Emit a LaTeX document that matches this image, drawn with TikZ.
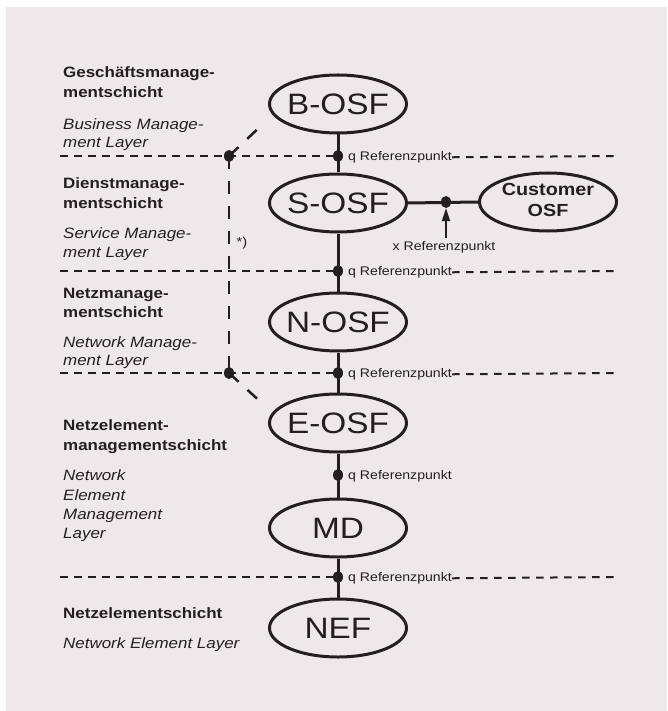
\documentclass[tikz,border=0pt]{standalone}
\usepackage{fontspec}
\setmainfont{Liberation Sans}[FakeStretch=1.13]
\usetikzlibrary{shapes.geometric,arrows.meta}
\definecolor{bg}{RGB}{239,232,234}
\definecolor{ink}{RGB}{35,31,32}
\begin{document}
\begin{tikzpicture}[x=1pt,y=-1pt,
  osf/.style={ellipse, draw=ink, line width=3pt, minimum width=137pt, minimum height=58pt, inner sep=0pt, font=\fontsize{29.5}{34}\selectfont, text=ink},
  cust/.style={ellipse, draw=ink, line width=3pt, minimum width=137pt, minimum height=58pt, inner sep=0pt, font=\bfseries\fontsize{17.5}{20}\selectfont, text=ink},
  conn/.style={draw=ink, line width=3pt},
  dot/.style={ellipse, fill=ink, inner sep=0pt, minimum width=10pt, minimum height=12pt},
  hdash/.style={draw=ink, line width=2pt, dash pattern=on 7.5pt off 6.5pt},
  vdash/.style={draw=ink, line width=2.5pt, dash pattern=on 13pt off 12pt},
  ref/.style={font=\fontsize{12.5}{14}\selectfont, text=ink, inner sep=0pt, anchor=base west},
  lbold/.style={font=\bfseries\fontsize{15}{18}\selectfont, text=ink, inner sep=0pt, anchor=base west},
  lital/.style={font=\itshape\fontsize{15}{18}\selectfont, text=ink, inner sep=0pt, anchor=base west},
]
\useasboundingbox (0,0) rectangle (667,711);
\fill[white] (0,0) rectangle (667,711);
\fill[bg] (6,7) rectangle (667,711);

% layer labels
\node[lbold] (t1a) at (63,78) {Geschäftsmanage-};
\node[lbold] (t1b) at (63,98) {mentschicht};
\node[lital] (t1c) at (63,130) {Business Manage-};
\node[lital] (t1d) at (63,148) {ment Layer};
\node[lbold] (t2a) at (63,189) {Dienstmanage-};
\node[lbold] (t2b) at (63,208) {mentschicht};
\node[lital] (t2c) at (63,238) {Service Manage-};
\node[lital] (t2d) at (63,257) {ment Layer};
\node[lbold] (t3a) at (63,298) {Netzmanage-};
\node[lbold] (t3b) at (63,317) {mentschicht};
\node[lital] (t3c) at (63,347) {Network Manage-};
\node[lital] (t3d) at (63,365) {ment Layer};
\node[lbold] (t4a) at (63,430) {Netzelement-};
\node[lbold] (t4b) at (63,450) {managementschicht};
\node[lital] (t4c) at (63,480) {Network};
\node[lital] (t4d) at (63,500) {Element};
\node[lital] (t4e) at (63,519) {Management};
\node[lital] (t4f) at (63,538) {Layer};
\node[lbold] (t5a) at (63,618) {Netzelementschicht};
\node[lital] (t5b) at (63,648) {Network Element Layer};

% function blocks
\node[osf] (bosf) at (338,104) {\makebox[0pt]{B-OSF}};
\node[osf] (sosf) at (338,203) {\makebox[0pt]{S-OSF}};
\node[cust] (cosf) at (548,202) {\makebox[0pt]{\begin{tabular}{@{}c@{}}Customer\\[1pt]OSF\end{tabular}}};
\node[osf] (nosf) at (338,322) {\makebox[0pt]{N-OSF}};
\node[osf] (eosf) at (338,423) {\makebox[0pt]{E-OSF}};
\node[osf] (md) at (338,528) {\makebox[0pt]{MD}};
\node[osf] (nef) at (338,628) {\makebox[0pt]{NEF}};

% connectors
\draw[conn] (bosf.south) -- (sosf.north);
\draw[conn] (sosf.south) -- (nosf.north);
\draw[conn] (nosf.south) -- (eosf.north);
\draw[conn] (eosf.south) -- (md.north);
\draw[conn] (md.south) -- (nef.north);
\draw[conn] (sosf.east) -- (cosf.west);

% reference points
\node[dot] (q1) at (338,156) {};
\node[dot] (q2) at (338,271) {};
\node[dot] (q3) at (338,373) {};
\node[dot] (q4) at (338,475) {};
\node[dot] (q5) at (338,577) {};
\node[dot] (xd) at (446,202) {};
\node[dot] (lt) at (229,156) {};
\node[dot] (lb) at (229,373) {};

\node[ref] (r1) at (348,160.5) {q Referenzpunkt};
\node[ref] (r2) at (348,275.5) {q Referenzpunkt};
\node[ref] (r3) at (348,377.5) {q Referenzpunkt};
\node[ref] (r4) at (348,479.5) {q Referenzpunkt};
\node[ref] (r5) at (348,581.5) {q Referenzpunkt};

% layer boundaries
\coordinate (h1l) at (60,156); \coordinate (h1r) at (618,156);
\coordinate (h2l) at (60,271); \coordinate (h2r) at (618,271);
\coordinate (h3l) at (60,373); \coordinate (h3r) at (618,373);
\coordinate (h5l) at (60,577); \coordinate (h5r) at (618,577);
\draw[hdash] (h1l) -- (q1);
\draw[hdash] (r1.east) -- (h1r);
\draw[hdash] (h2l) -- (q2);
\draw[hdash] (r2.east) -- (h2r);
\draw[hdash] (h3l) -- (q3);
\draw[hdash] (r3.east) -- (h3r);
\draw[hdash] (h5l) -- (q5);
\draw[hdash] (r5.east) -- (h5r);

% dashed bracket
\coordinate (bd) at (263,124);
\coordinate (ed) at (264,405);
\draw[vdash] (lt.center) -- (lb.center);
\draw[vdash] (lt.center) -- (bd);
\draw[vdash] (lb.center) -- (ed);
\node[font=\fontsize{13}{15}\selectfont, text=ink, inner sep=0pt] (star) at (242,243) {*)};

% x reference point
\coordinate (xa) at (446,238);
\draw[draw=ink, line width=2pt, -{Triangle[length=13pt,width=8pt]}] (xa) -- (xd.south);
\node[font=\fontsize{12.5}{14}\selectfont, text=ink, inner sep=0pt, anchor=base] (xl) at (444,250) {x Referenzpunkt};
\end{tikzpicture}
\end{document}
